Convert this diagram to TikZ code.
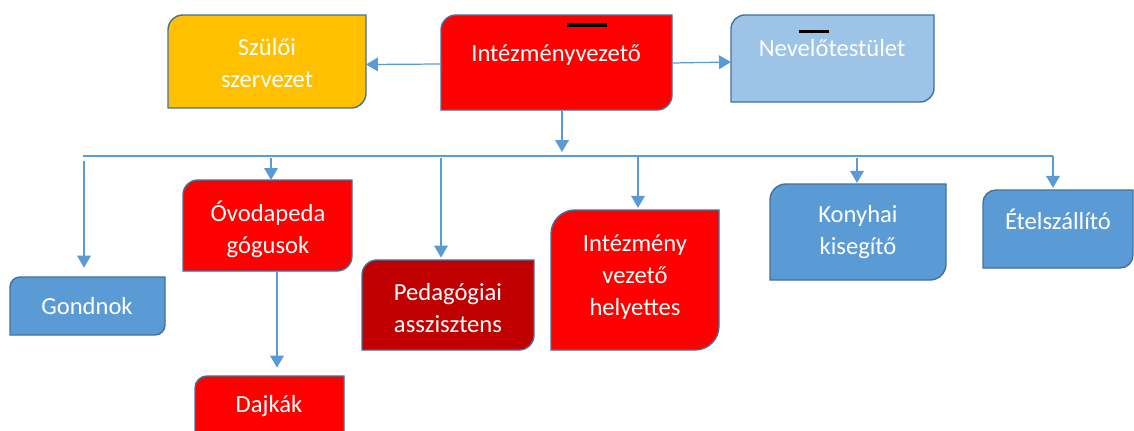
\documentclass[tikz,border=0pt]{standalone}
\usepackage{fontspec}
\setmainfont{Carlito}
\usetikzlibrary{arrows.meta}
\definecolor{boxline}{HTML}{41719C}
\definecolor{conn}{HTML}{5B9BD5}
\definecolor{cblue}{HTML}{5B9BD5}
\definecolor{clight}{HTML}{9DC3E6}
\definecolor{corange}{HTML}{FFC000}
\definecolor{cred}{HTML}{FF0000}
\definecolor{cdark}{HTML}{C00000}
\tikzset{
  boxnode/.style={draw=none, inner sep=0pt, outer sep=0pt},
  boxshape/.style={draw=boxline, line width=0.8pt},
  txt/.style={text=white, align=center, inner sep=0pt, font=\fontsize{14}{18.2}\selectfont},
  arr/.style={draw=conn, line width=0.7pt, -{Triangle[length=6.8pt,width=7.8pt]}},
  bus/.style={draw=conn, line width=0.7pt},
  bar/.style={fill=black},
}
% name, cx, cy, w, h, fill, radius(px)
\newcommand\dbox[7]{%
  \node[boxnode, minimum width=#4*0.02cm, minimum height=#5*0.02cm] (#1) at (#2,-#3) {};
  \path[boxshape, fill=#6] (#1.south west) -- ([yshift=-#7*0.567pt]#1.north west)
    arc[start angle=180, end angle=90, radius=#7*0.567pt] -- (#1.north east)
    -- ([yshift=#7*0.567pt]#1.south east)
    arc[start angle=0, end angle=-90, radius=#7*0.567pt] -- cycle;
}
\begin{document}
\begin{tikzpicture}[x=0.02cm, y=0.02cm]
\useasboundingbox (0,0) rectangle (1134,-430);
\clip (0,0) rectangle (1134,-430);
% boxes
\dbox{sz}{267}{61.5}{198}{93}{corange}{15}
\dbox{iv}{556.5}{62.5}{231}{95}{cred}{15}
\dbox{nt}{832.5}{58.5}{203}{87}{clight}{14}
\dbox{go}{87.5}{306}{155}{58}{cblue}{10}
\dbox{ov}{267.5}{225.5}{169}{91}{cred}{15}
\dbox{da}{269.5}{413}{149}{74}{cred}{12}
\dbox{pa}{448}{305}{172}{90}{cdark}{15}
\dbox{he}{635}{280}{168}{140}{cred}{24}
\dbox{ko}{858}{232}{176}{96}{cblue}{16}
\dbox{et}{1058}{229}{150}{78}{cblue}{13}
% texts
\node[txt] (sz-t) at (267,-63) {Szülői\\szervezet};
\node[txt] (iv-t) at (556,-55) {Intézményvezető};
\node[txt] (nt-t) at (832,-48) {Nevelőtestület};
\node[txt] (go-t) at (87,-306) {Gondnok};
\node[txt] (ov-t) at (268,-229) {Óvodapeda\\gógusok};
\node[txt] (da-t) at (269,-406) {Dajkák};
\node[txt] (pa-t) at (448,-308) {Pedagógiai\\asszisztens};
\node[txt] (he-t) at (635,-277) {Intézmény\\vezető\\helyettes};
\node[txt] (ko-t) at (858,-232) {Konyhai\\kisegítő};
\node[txt] (et-t) at (1058,-219) {Ételszállító};
% black bars
\fill[bar] (567,-23) rectangle (607,-26.5);
\fill[bar] (799,-29.5) rectangle (829,-33);
% connectors
\draw[arr] (iv.west |- 0,-64) -- (sz.east |- 0,-64.5);
\draw[arr] (iv.east |- 0,-63) -- (nt.west |- 0,-62);
\coordinate (ivb) at (562,-110);
\coordinate (bustip) at (562,-152);
\draw[arr] (ivb) -- (bustip);
\coordinate (busL) at (83,-156);
\coordinate (busR) at (1053,-156);
\draw[bus] (busL) -- (busR);
\coordinate (b1) at (84,-161);
\coordinate (b2) at (271,-158);
\coordinate (b3) at (441,-158);
\coordinate (b4) at (638,-157);
\coordinate (b5) at (857,-158);
\coordinate (b6) at (1053,-156);
\draw[arr] (b1) -- ([yshift=-107*0.567pt]b1);
\draw[arr] (b2) -- (b2 |- ov.north);
\draw[arr] (b3) -- ([yshift=-100*0.567pt]b3);
\draw[arr] (b4) -- ([yshift=-51*0.567pt]b4);
\draw[arr] (b5) -- ([yshift=-25*0.567pt]b5);
\draw[arr] (b6) -- ([yshift=-32*0.567pt]b6);
\draw[arr] (ov.south -| 277,0) -- ([yshift=-97*0.567pt]ov.south -| 277,0);
\end{tikzpicture}
\end{document}
